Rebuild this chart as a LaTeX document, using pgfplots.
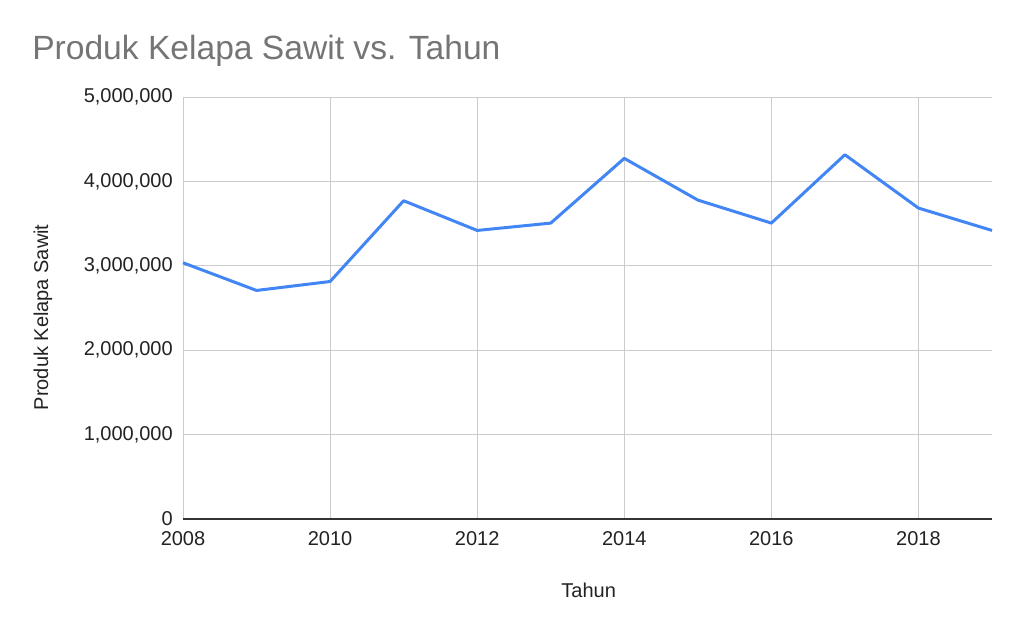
\documentclass[border=0pt]{standalone}
\usepackage{pgfplots}
\pgfplotsset{compat=1.18}
\usepackage{fontspec}
\setmainfont{Liberation Sans}

\definecolor{lineblue}{HTML}{4285F4}
\definecolor{gridgray}{HTML}{CCCCCC}
\definecolor{titlegray}{HTML}{757575}
\definecolor{axisdark}{HTML}{333333}
\definecolor{textdark}{HTML}{222222}

% data (ton)
\pgfplotsset{every axis/.append style={font=\fontsize{15pt}{18pt}\selectfont}}

\begin{document}
\begin{tikzpicture}
  % page: 1024 x 633 px at 0.75pt per px, origin at top left
  \path[use as bounding box] (0,0) rectangle (768pt,-474.75pt);

  \begin{axis}[
      at={(137.25pt,-72.75pt)}, anchor=north west,
      scale only axis, width=606.75pt, height=316.5pt,
      xmin=2008, xmax=2019, ymin=0, ymax=5000000,
      scaled y ticks=false, scaled x ticks=false,
      xtick={2008,2010,...,2018},
      xticklabels={2008,2010,2012,2014,2016,2018},
      ytick={0,1000000,2000000,3000000,4000000,5000000},
      yticklabels={0,{1,000,000},{2,000,000},{3,000,000},{4,000,000},{5,000,000}},
      axis line style={draw=none},
      tick style={draw=none},
      grid=major,
      major grid style={draw=gridgray, line width=0.75pt},
      xticklabel style={anchor=north, inner sep=0pt, yshift=-9.5pt, text=textdark},
      yticklabel style={anchor=east, inner sep=0pt, xshift=-7.5pt, text=textdark},
      clip=false,
    ]
    \addplot[color=lineblue, line width=2.25pt, line join=round, mark=none] coordinates {
      (2008, 3036000)
      (2009, 2708000)
      (2010, 2814000)
      (2011, 3771000)
      (2012, 3419000)
      (2013, 3506000)
      (2014, 4273000)
      (2015, 3779000)
      (2016, 3506000)
      (2017, 4316000)
      (2018, 3684000)
      (2019, 3419000)
    };
    \draw[axisdark, line width=1pt] (axis cs:2008,0) -- (axis cs:2019,0);
  \end{axis}

  \node[anchor=base west, inner sep=0pt, text=titlegray,
        font=\fontsize{25.2pt}{30pt}\selectfont] at (24pt,-44.25pt)
        {Produk Kelapa Sawit vs. Tahun};
  \node[anchor=base, inner sep=0pt, rotate=90, text=textdark,
        font=\fontsize{15pt}{18pt}\selectfont] at (36pt,-238pt)
        {Produk Kelapa Sawit};
  \node[anchor=base, inner sep=0pt, text=textdark,
        font=\fontsize{15pt}{18pt}\selectfont] at (441.5pt,-448pt)
        {Tahun};
\end{tikzpicture}
\end{document}
